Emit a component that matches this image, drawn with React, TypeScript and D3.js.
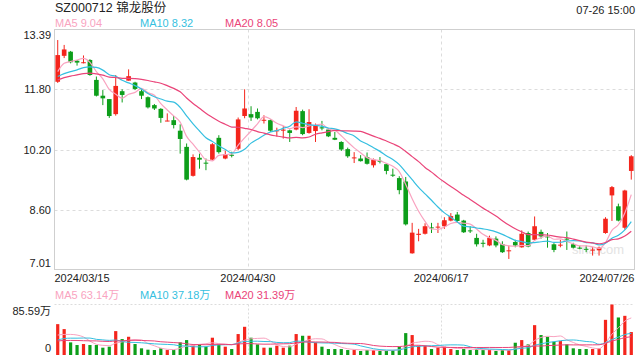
import React from "react";
import * as d3 from "d3";

// ---- data ----
const tickDates = ["2024/03/15", "2024/04/30", "2024/06/17", "2024/07/26"];
const tickIndex = [0, 30, 60, 89];

const opens = [
  12.0, 12.69, 12.8, 12.56, 12.51, 12.58, 12.05, 11.63, 11.54, 11.14,
  11.75, 12.03, 11.98, 11.75, 11.59, 11.38, 11.28, 10.96, 10.98, 10.7,
  10.27, 9.5, 9.98, 9.85, 9.93, 10.51, 9.96, 10.06, 10.22, 11.09,
  11.14, 11.2, 10.97, 10.98, 10.69, 10.7, 10.71, 10.73, 11.22, 10.64,
  10.69, 10.79, 10.73, 10.51, 10.4, 10.21, 9.97, 9.96, 10.0, 9.78,
  9.9, 9.81, 9.53, 9.44, 9.35, 7.44, 7.93, 7.96, 8.13, 8.14,
  8.16, 8.31, 8.47, 8.31, 8.05, 7.85, 7.72, 7.65, 7.83, 7.68,
  7.5, 7.74, 7.6, 7.98, 7.8, 8.01, 7.89, 7.68, 7.66, 7.83,
  7.68, 7.59, 7.56, 7.53, 7.52, 7.98, 8.98, 8.69, 8.12, 9.63,
];
const closes = [
  12.71, 12.86, 12.52, 12.51, 12.52, 12.18, 11.63, 11.56, 11.09, 11.89,
  11.65, 12.15, 11.81, 11.63, 11.32, 11.29, 11.04, 10.97, 10.85, 10.48,
  9.4, 10.0, 9.93, 9.83, 10.34, 10.13, 10.08, 10.04, 11.0, 11.29,
  11.05, 11.03, 10.99, 10.7, 10.71, 10.73, 10.64, 11.23, 10.61, 10.93,
  10.85, 10.76, 10.55, 10.46, 10.2, 10.02, 9.99, 9.89, 9.82, 9.93,
  9.88, 9.63, 9.51, 9.12, 8.21, 7.99, 7.96, 8.16, 8.11, 8.15,
  8.32, 8.43, 8.3, 8.0, 8.03, 7.68, 7.71, 7.85, 7.65, 7.47,
  7.52, 7.65, 7.96, 7.62, 8.16, 7.89, 7.87, 7.53, 7.67, 7.81,
  7.59, 7.58, 7.55, 7.54, 7.59, 8.36, 9.2, 8.31, 9.11, 10.02,
];
const highs = [
  13.11, 12.98, 12.82, 12.58, 12.7, 12.6, 12.14, 11.78, 11.54, 12.18,
  11.8, 12.33, 12.0, 11.8, 11.61, 11.41, 11.3, 11.16, 11.09, 10.87,
  10.36, 10.07, 10.09, 9.96, 10.37, 10.58, 10.17, 10.14, 11.05, 11.8,
  11.35, 11.29, 11.11, 11.0, 10.78, 10.82, 10.73, 11.33, 11.26, 11.27,
  10.89, 10.96, 10.76, 10.67, 10.42, 10.25, 10.13, 10.05, 10.12, 9.96,
  10.0, 9.84, 9.69, 9.49, 9.47, 8.25, 8.09, 8.24, 8.25, 8.25,
  8.4, 8.51, 8.54, 8.33, 8.16, 7.96, 7.8, 7.91, 7.89, 7.76,
  7.65, 7.8, 8.05, 8.02, 8.42, 8.07, 7.98, 7.71, 7.8, 8.02,
  7.72, 7.64, 7.65, 7.6, 7.62, 8.4, 9.23, 8.76, 9.13, 10.05,
];
const lows = [
  11.97, 12.63, 12.49, 12.43, 12.49, 12.16, 11.61, 11.38, 11.04, 11.1,
  11.45, 12.03, 11.78, 11.54, 11.29, 11.25, 10.91, 10.95, 10.76, 10.09,
  9.38, 9.48, 9.69, 9.65, 9.91, 10.09, 9.94, 9.99, 10.18, 11.03,
  10.96, 11.0, 10.89, 10.67, 10.55, 10.49, 10.4, 10.71, 10.58, 10.62,
  10.4, 10.71, 10.53, 10.45, 10.16, 9.98, 9.84, 9.88, 9.8, 9.72,
  9.83, 9.54, 9.47, 9.01, 8.18, 7.43, 7.76, 7.94, 7.98, 7.98,
  8.09, 8.29, 8.27, 7.98, 7.98, 7.62, 7.6, 7.63, 7.6, 7.45,
  7.29, 7.6, 7.59, 7.6, 7.78, 7.83, 7.59, 7.47, 7.6, 7.53,
  7.57, 7.55, 7.47, 7.38, 7.38, 7.96, 8.3, 8.29, 8.07, 9.4,
];
// volumes in 万 shares
const volumes = [
  52.3, 43.9, 21.4, 16.9, 18.6, 16.9, 16.9, 12.4, 14.1, 40.5,
  27.0, 30.9, 18.6, 11.3, 9.0, 8.4, 11.3, 8.4, 8.4, 21.4,
  25.3, 16.9, 18.0, 14.1, 29.3, 18.0, 14.1, 10.1, 35.5, 47.8,
  29.3, 18.0, 12.4, 12.4, 15.8, 12.4, 15.8, 35.5, 32.6, 32.6,
  21.4, 14.1, 10.1, 10.1, 10.1, 8.4, 8.4, 6.8, 8.4, 8.4,
  6.8, 6.8, 8.4, 14.1, 37.1, 33.8, 15.8, 15.8, 10.1, 12.4,
  14.1, 10.1, 8.4, 10.1, 8.4, 10.1, 8.4, 8.4, 6.8, 8.4,
  8.4, 20.8, 25.3, 18.0, 50.6, 33.8, 30.9, 22.5, 23.6, 18.0,
  11.3, 10.1, 10.1, 10.1, 11.3, 59.6, 85.59, 63.6, 66.4, 38.9,
];
// sessions before 2024/03/15, only feeding the moving averages
const priorCloses = [
  11.62, 11.75, 11.88, 11.8, 11.94, 12.05, 12.2, 12.15, 12.08, 12.13,
  12.1, 11.98, 12.05, 11.92, 12.0, 11.76, 12.27, 12.31, 12.3,
];
const priorVolumes = [
  24, 20, 18, 26, 22, 19, 25, 21, 23, 21,
  18, 15, 17, 16, 18, 38.4, 21.4, 22.4, 34.5,
];
const priceTicks = [13.39, 11.8, 10.2, 8.6, 7.01];
const volTickLabels = ["85.59万", "0"];
const volMax = 85.59;
const priceLegend = ["MA5 9.04", "MA10 8.32", "MA20 8.05"];
const volLegend = ["MA5 63.14万", "MA10 37.18万", "MA20 31.39万"];
const maPeriods = [5, 10, 20];

// ---- style ----
const UP = "#f4251c";
const DOWN = "#0d9e1a";
const MA_COLORS = ["#f9a3c0", "#35bfe0", "#ea4479"];
const GRID = "#dcdcdc";
const BORDER = "#cfcfcf";
const FONT = "'Liberation Sans', Arial, 'Noto Sans CJK SC', sans-serif";

function movingAvg(prior: number[], vals: number[], n: number): number[] {
  const all = prior.concat(vals);
  const off = prior.length;
  return vals.map((_, i) => {
    const end = off + i + 1;
    const start = Math.max(0, end - n);
    const slice = all.slice(start, end);
    return d3.mean(slice) as number;
  });
}

export default function App() {
  const W = 640;
  const H = 360;
  const left = 54.5;
  const right = 634.5;
  const pTop = 29.5;
  const pBot = 269.5;
  const vTop = 304.5;
  const vBot = 355;

  const idx = d3.range(closes.length);
  const x = d3.scaleBand<number>().domain(idx).range([left, right]).padding(0);
  const bw = x.bandwidth();
  const cx = (i: number) => (x(i) as number) + bw / 2;
  const y = d3.scaleLinear().domain([7.01, 13.39]).range([pBot, pTop]);
  const yv = d3.scaleLinear().domain([0, volMax]).range([vBot, vTop]);

  const priceMAs = maPeriods.map((n) => movingAvg(priorCloses, closes, n));
  const volMAs = maPeriods.map((n) => movingAvg(priorVolumes, volumes, n));

  const pLine = d3
    .line<number>()
    .x((_, i) => cx(i))
    .y((d) => y(d))
    .curve(d3.curveMonotoneX);
  const vLine = d3
    .line<number>()
    .x((_, i) => cx(i))
    .y((d) => yv(d))
    .curve(d3.curveMonotoneX);

  const gridXs = [x(tickIndex[1]) as number, x(tickIndex[2]) as number];
  const bodyW = bw * 0.72;
  const volW = 3.2;

  const legendX = [55, 140, 225];

  return (
    <svg
      width={W}
      height={H}
      style={{ position: "absolute", left: 0, top: 0, display: "block", background: "#fff" }}
      fontFamily={FONT}
    >
      {/* header */}
      <text x={55} y={12} fontSize={12.5} fill="#222">
        SZ000712 锦龙股份
      </text>
      <text x={635} y={14} fontSize={11} fill="#222" textAnchor="end">
        07-26 15:00
      </text>
      {priceLegend.map((t, k) => (
        <text key={t} x={legendX[k]} y={27} fontSize={11} fill={MA_COLORS[k]}>
          {t}
        </text>
      ))}

      {/* price grid */}
      {priceTicks.slice(1, -1).map((t) => (
        <line
          key={t}
          x1={left}
          x2={right}
          y1={Math.round(y(t)) + 0.5}
          y2={Math.round(y(t)) + 0.5}
          stroke={GRID}
          strokeDasharray="3,3"
        />
      ))}
      {gridXs.map((gx) => (
        <line
          key={gx}
          x1={Math.round(gx) + 0.5}
          x2={Math.round(gx) + 0.5}
          y1={pTop}
          y2={pBot}
          stroke={GRID}
          strokeDasharray="3,3"
        />
      ))}
      <text x={624} y={254} fontSize={13} fill="#e3e3e3" textAnchor="end">
        sina.com
      </text>
      {/* border */}
      <rect x={left} y={pTop} width={right - left} height={pBot - pTop} fill="none" stroke={BORDER} />

      {/* price tick labels */}
      {priceTicks.map((t, k) => {
        const yy = y(t);
        const dy = k === 0 ? 9 : k === priceTicks.length - 1 ? -3 : 4;
        return (
          <text key={t} x={51} y={yy + dy} fontSize={11} fill="#222" textAnchor="end">
            {t.toFixed(2)}
          </text>
        );
      })}

      {/* candles */}
      {idx.map((i) => {
        const o = opens[i];
        const c = closes[i];
        const col = c >= o ? UP : DOWN;
        const top = y(Math.max(o, c));
        const h = Math.max(1, Math.abs(y(o) - y(c)));
        return (
          <g key={i}>
            <line x1={cx(i)} x2={cx(i)} y1={y(highs[i])} y2={y(lows[i])} stroke={col} strokeWidth={1} />
            <rect x={cx(i) - bodyW / 2} y={top} width={bodyW} height={h} fill={col} />
          </g>
        );
      })}

      {/* price MAs */}
      {priceMAs.map((ma, k) => (
        <path key={k} d={pLine(ma) || ""} fill="none" stroke={MA_COLORS[k]} strokeWidth={1.2} />
      ))}

      {/* date labels */}
      {tickDates.map((d, k) => {
        const i = tickIndex[k];
        let tx = x(i) as number;
        let anchor: "start" | "middle" | "end" = "middle";
        if (k === 0) {
          tx = left;
          anchor = "start";
        } else if (k === tickDates.length - 1) {
          tx = right;
          anchor = "end";
        }
        return (
          <text key={d} x={tx} y={282} fontSize={11} fill="#222" textAnchor={anchor}>
            {d}
          </text>
        );
      })}

      {/* volume legend */}
      {volLegend.map((t, k) => (
        <text key={t} x={legendX[k]} y={299} fontSize={11} fill={MA_COLORS[k]}>
          {t}
        </text>
      ))}

      {/* volume grid */}
      <line x1={left} x2={right} y1={vTop} y2={vTop} stroke={GRID} strokeDasharray="2,2" />
      {gridXs.map((gx) => (
        <line
          key={"v" + gx}
          x1={Math.round(gx) + 0.5}
          x2={Math.round(gx) + 0.5}
          y1={vTop}
          y2={vBot}
          stroke={GRID}
          strokeDasharray="2,2"
        />
      ))}
      <text x={51} y={315} fontSize={11} fill="#222" textAnchor="end">
        {volTickLabels[0]}
      </text>
      <text x={51} y={352} fontSize={11} fill="#222" textAnchor="end">
        {volTickLabels[1]}
      </text>

      {/* volume bars */}
      {idx.map((i) => {
        const col = closes[i] >= opens[i] ? UP : DOWN;
        return (
          <rect
            key={"vb" + i}
            x={cx(i) - volW / 2}
            y={yv(volumes[i])}
            width={volW}
            height={vBot - yv(volumes[i])}
            fill={col}
          />
        );
      })}
      {volMAs.map((ma, k) => (
        <path key={"vm" + k} d={vLine(ma) || ""} fill="none" stroke={MA_COLORS[k]} strokeWidth={1} />
      ))}
    </svg>
  );
}
